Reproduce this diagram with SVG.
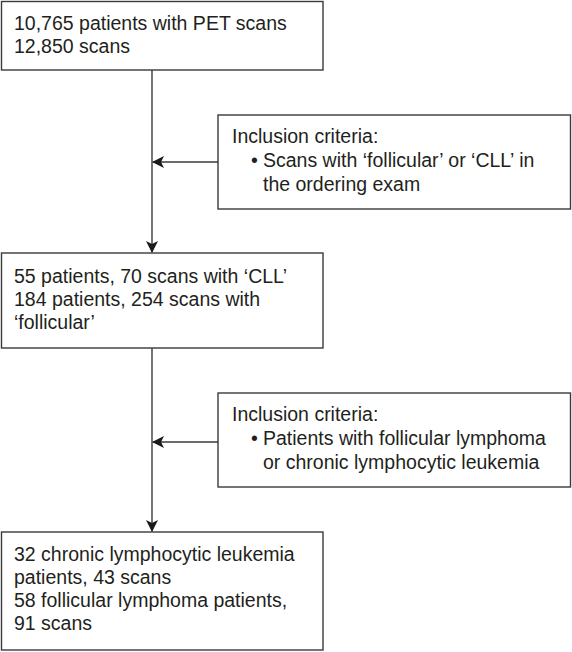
<svg xmlns="http://www.w3.org/2000/svg" width="572" height="652" viewBox="0 0 572 652">
<defs>
<style>
.box{fill:#fff;stroke:#3a3a3a;stroke-width:1.4}
.t{font-family:"Liberation Sans",Arial,sans-serif;font-size:19.5px;fill:#231f20}
.ln{fill:none;stroke:#3a3a3a;stroke-width:1.4}
</style>
<marker id="ah" viewBox="0 0 12 12" refX="11" refY="6" markerWidth="12" markerHeight="12" markerUnits="userSpaceOnUse" orient="auto">
<path d="M0,0 L12,6 L0,12 L3,6 Z" fill="#1a1a1a"/>
</marker>
</defs>
<rect width="572" height="652" fill="#fff"/>
<g id="connectors">
<line class="ln" x1="152" y1="70" x2="152" y2="252" marker-end="url(#ah)"/>
<line class="ln" x1="218" y1="162" x2="153" y2="162" marker-end="url(#ah)"/>
<line class="ln" x1="152" y1="348" x2="152" y2="531" marker-end="url(#ah)"/>
<line class="ln" x1="218" y1="442" x2="153" y2="442" marker-end="url(#ah)"/>
</g>
<g id="n1">
<rect class="box" x="1.5" y="1.5" width="321.5" height="68.5"/>
<text class="t" x="14" y="30">10,765 patients with PET scans</text>
<text class="t" x="14" y="53">12,850 scans</text>
</g>
<g id="c1">
<rect class="box" x="218" y="115" width="352.5" height="94"/>
<text class="t" x="232" y="143">Inclusion criteria:</text>
<text class="t" x="251" y="167">•</text>
<text class="t" x="263" y="167">Scans with ‘follicular’ or ‘CLL’ in</text>
<text class="t" x="263" y="191">the ordering exam</text>
</g>
<g id="n2">
<rect class="box" x="1.5" y="253" width="321.5" height="95"/>
<text class="t" x="14" y="283">55 patients, 70 scans with ‘CLL’</text>
<text class="t" x="14" y="306">184 patients, 254 scans with</text>
<text class="t" x="14" y="329">‘follicular’</text>
</g>
<g id="c2">
<rect class="box" x="218" y="393" width="352.5" height="94"/>
<text class="t" x="232" y="421">Inclusion criteria:</text>
<text class="t" x="251" y="445">•</text>
<text class="t" x="263" y="445">Patients with follicular lymphoma</text>
<text class="t" x="263" y="469">or chronic lymphocytic leukemia</text>
</g>
<g id="n3">
<rect class="box" x="1.5" y="532" width="321.5" height="118"/>
<text class="t" x="14" y="561">32 chronic lymphocytic leukemia</text>
<text class="t" x="14" y="584">patients, 43 scans</text>
<text class="t" x="14" y="607">58 follicular lymphoma patients,</text>
<text class="t" x="14" y="630">91 scans</text>
</g>
</svg>
